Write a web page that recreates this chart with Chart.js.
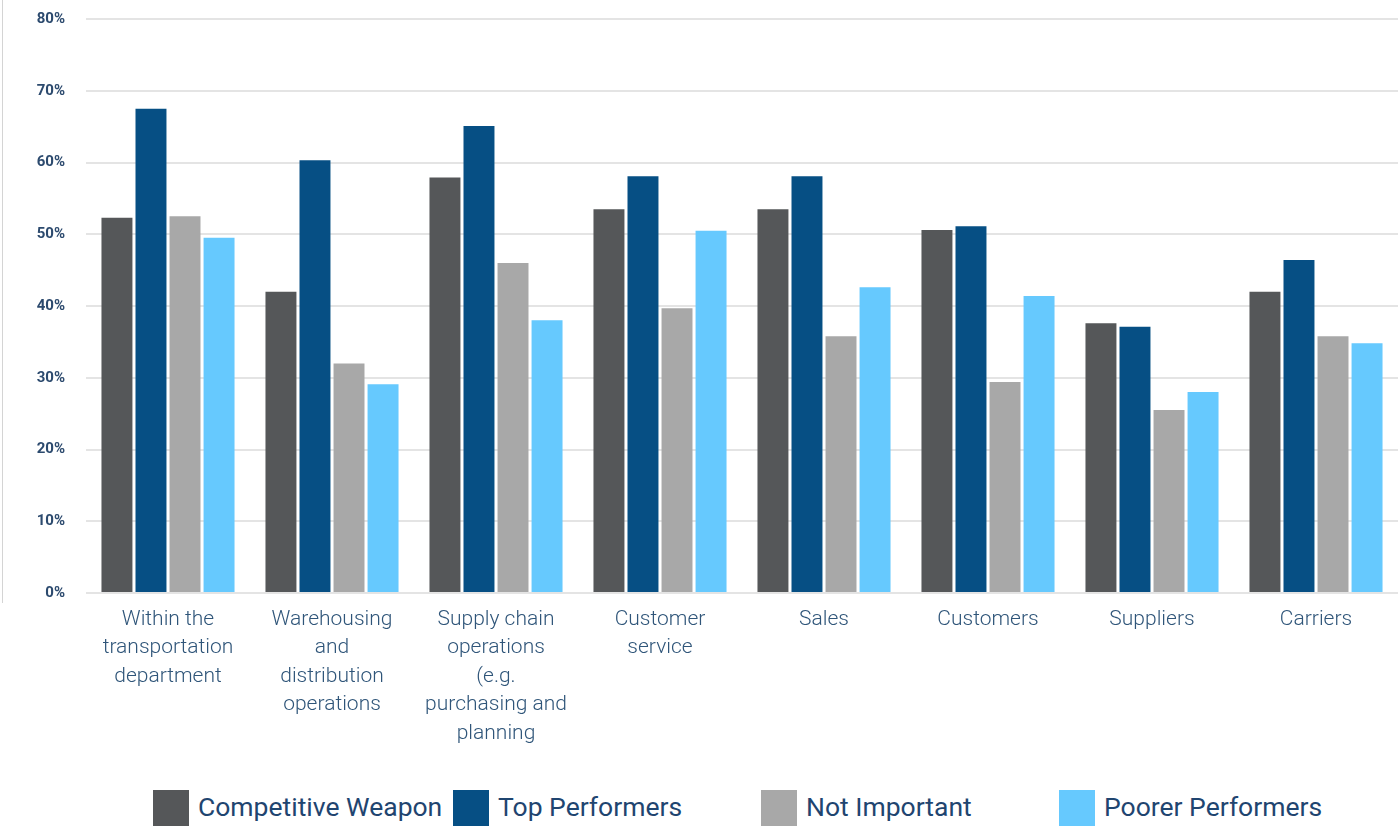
<!DOCTYPE html>
<html>
<head>
<meta charset="utf-8">
<script src="https://cdn.jsdelivr.net/npm/chart.js@4"></script>
<style>
  html, body { margin: 0; padding: 0; background: #fff; }
  #wrap { position: relative; width: 1398px; height: 826px; overflow: hidden; }
  #edge { position: absolute; left: 2px; top: 0; width: 0; height: 603px; border-left: 1px solid #d4d4d4; }
  #box { position: absolute; left: 0; top: -11px; width: 1398px; height: 781px; }
  #legend { position: absolute; top: 790px; left: 0; width: 1398px; height: 40px;
            font-family: Roboto, "Noto Sans", sans-serif; font-size: 26.5px; color: #1f4570; }
  #legend .item { position: absolute; top: 0; display: flex; align-items: flex-start; white-space: nowrap; }
  #legend .sw { width: 36px; height: 36px; margin-right: 9px; }
  #legend .tx { line-height: 36px; margin-top: -1px; }
</style>
</head>
<body>
<div id="wrap">
  <div id="edge"></div>
  <div id="box"><canvas id="chart"></canvas></div>
  <div id="legend"></div>
</div>
<script>
const categories = [
  ["Within the", "transportation", "department"],
  ["Warehousing", "and", "distribution", "operations"],
  ["Supply chain", "operations", "(e.g.", "purchasing and", "planning"],
  ["Customer", "service"],
  ["Sales"],
  ["Customers"],
  ["Suppliers"],
  ["Carriers"]
];

const seriesNames = ["Competitive Weapon", "Top Performers", "Not Important", "Poorer Performers"];
const competitiveWeapon = [52.3, 42.0, 57.9, 53.5, 53.5, 50.6, 37.6, 42.0];
const topPerformers     = [67.5, 60.3, 65.1, 58.1, 58.1, 51.1, 37.1, 46.4];
const notImportant      = [52.5, 32.0, 46.0, 39.7, 35.8, 29.4, 25.5, 35.8];
const poorerPerformers  = [49.5, 29.1, 38.0, 50.5, 42.6, 41.4, 28.0, 34.8];
const yTicks = [0, 10, 20, 30, 40, 50, 60, 70, 80];

const colors = ["#555759", "#064f84", "#a8a8a8", "#66c9fe"];
const values = [competitiveWeapon, topPerformers, notImportant, poorerPerformers];

const chart = new Chart(document.getElementById("chart"), {
  type: "bar",
  data: {
    labels: categories,
    datasets: seriesNames.map((name, i) => ({
      label: name,
      data: values[i],
      backgroundColor: colors[i],
      borderWidth: 0,
      categoryPercentage: 0.83,
      barPercentage: 0.91
    }))
  },
  options: {
    responsive: true,
    maintainAspectRatio: false,
    animation: false,
    layout: { padding: 0 },
    plugins: {
      legend: { display: false },
      tooltip: { enabled: false }
    },
    scales: {
      x: {
        grid: { display: false },
        border: { display: false },
        ticks: {
          maxRotation: 0,
          autoSkip: false,
          padding: 4,
          color: "#2f5579",
          font: { family: "Roboto", size: 21, weight: 300, lineHeight: 1.36 }
        },
        afterFit: axis => { axis.height = 177; }
      },
      y: {
        min: 0,
        max: 80,
        afterBuildTicks: axis => { axis.ticks = yTicks.map(v => ({ value: v })); },
        grid: { color: "#e4e4e4", lineWidth: 2, drawTicks: false },
        border: { display: false },
        ticks: {
          padding: 21,
          color: "#2c4a6e",
          font: { family: "Roboto", size: 15, weight: "bold" },
          callback: v => v + "%"
        },
        afterFit: axis => { axis.width = 86; }
      }
    }
  }
});

// legend built from the chart's datasets
const legendLeft = [153, 453, 761, 1059];
const legend = document.getElementById("legend");
chart.data.datasets.forEach((ds, i) => {
  const item = document.createElement("div");
  item.className = "item";
  item.style.left = legendLeft[i] + "px";
  item.innerHTML = '<span class="sw" style="background:' + ds.backgroundColor + '"></span><span class="tx">' + ds.label + "</span>";
  legend.appendChild(item);
});
</script>
</body>
</html>
